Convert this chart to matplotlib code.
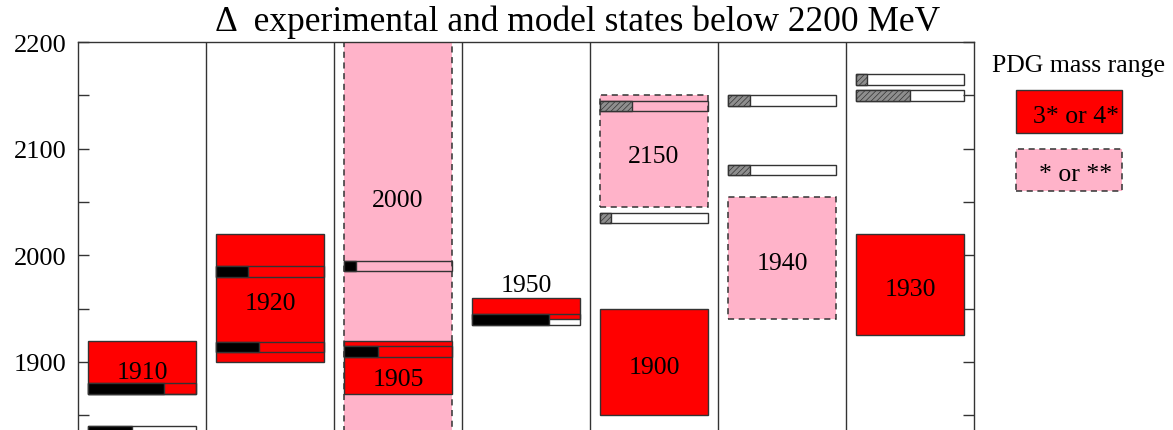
import matplotlib
matplotlib.use("Agg")
import matplotlib.pyplot as plt
from matplotlib.patches import Rectangle
from matplotlib.ticker import MultipleLocator

plt.rcParams['font.family'] = ['Liberation Serif', 'DejaVu Serif']
plt.rcParams['hatch.color'] = '#6e6e6e'
plt.rcParams['hatch.linewidth'] = 0.5

# PDG resonances: column, mass range (MeV), name, rating (True = 3*/4*)
pdg_col = [0, 1, 2, 2, 3, 4, 4, 5, 6]
pdg_lo = [1870, 1900, 1750, 1870, 1940, 2045, 1850, 1940, 1925]
pdg_hi = [1920, 2020, 2300, 1920, 1960, 2150, 1950, 2055, 2020]
pdg_name = ['1910', '1920', '2000', '1905', '1950', '2150', '1900', '1940', '1930']
pdg_strong = [True, True, False, True, True, False, True, False, True]

# Model states: column, mass (MeV), filled fraction, shading group
model_col = [0, 0, 1, 1, 2, 2, 3, 4, 4, 5, 5, 6, 6]
model_mass = [1875, 1835, 1985, 1914, 1990, 1910, 1940, 2140, 2035, 2145, 2080, 2165, 2150]
model_frac = [0.70, 0.41, 0.30, 0.40, 0.11, 0.31, 0.71, 0.30, 0.10, 0.20, 0.20, 0.10, 0.50]
model_gray = [False, False, False, False, False, False, False, True, True, True, True, True, True]

y_ticks = [1900, 2000, 2100, 2200]

RED = '#ff0000'
PINK = '#ffb3c9'
EDGE = '#333333'
GRAY = '#8e8e8e'
BAR_H = 10.0
X0, W = 0.08, 0.84

fig = plt.figure(figsize=(11.73, 4.31), dpi=100)
ax = fig.add_axes([78 / 1173, 0.0, 896 / 1173, 1 - 43 / 431])
ax.set_xlim(0, 7)
ax.set_ylim(1836.25, 2200)

# PDG boxes: weak states first so strong ones sit on top
label_pos = {'2000': 2052, '1905': 1884, '1950': 1972}
order = sorted(range(len(pdg_col)), key=lambda i: pdg_strong[i])
for i in order:
    c, lo, hi = pdg_col[i], pdg_lo[i], pdg_hi[i]
    if pdg_strong[i]:
        r = Rectangle((c + X0, lo), W, hi - lo, facecolor=RED, edgecolor=EDGE,
                      linewidth=1.0, zorder=2)
    else:
        r = Rectangle((c + X0, lo), W, hi - lo, facecolor=PINK, edgecolor=EDGE,
                      linewidth=1.1, linestyle=(0, (4, 3)), zorder=1)
    ax.add_patch(r)
    ty = label_pos.get(pdg_name[i], (lo + hi) / 2 - 4.5)
    ax.text(c + 0.5, ty, pdg_name[i], ha='center', va='center', fontsize=18.5,
            zorder=5)

# Model states as thin bars with a filled fraction
for c, m, f, g in zip(model_col, model_mass, model_frac, model_gray):
    y0 = m - BAR_H / 2
    ax.add_patch(Rectangle((c + X0, y0), W, BAR_H, facecolor='none',
                           edgecolor=EDGE, linewidth=1.0, zorder=3))
    if g:
        ax.add_patch(Rectangle((c + X0, y0), W * f, BAR_H, facecolor=GRAY,
                               edgecolor=EDGE, linewidth=1.0, hatch='//////',
                               zorder=3))
    else:
        ax.add_patch(Rectangle((c + X0, y0), W * f, BAR_H, facecolor='black',
                               edgecolor=EDGE, linewidth=1.0, zorder=3))

# column separators
for c in range(1, 7):
    ax.axvline(c, color=EDGE, linewidth=1.0, zorder=4)

for s in ['top', 'left', 'right']:
    ax.spines[s].set_color(EDGE)
    ax.spines[s].set_linewidth(1.0)
ax.spines['bottom'].set_visible(False)
ax.set_xticks([])
ax.set_yticks(y_ticks)
ax.yaxis.set_minor_locator(MultipleLocator(50))
ax.tick_params(axis='y', which='both', direction='in', left=True, right=True,
               length=8, width=1.0, color=EDGE, labelsize=19, pad=8.5)

# legend
ax.text(7.82, 2178, 'PDG mass range', ha='center', va='center', fontsize=18.5,
        clip_on=False)
ax.add_patch(Rectangle((7.33, 2115), 0.83, 40, facecolor=RED, edgecolor=EDGE,
                       linewidth=1.0, clip_on=False))
ax.text(7.80, 2131, '3* or 4*', ha='center', va='center', fontsize=18.5,
        clip_on=False)
ax.add_patch(Rectangle((7.33, 2060), 0.83, 40, facecolor=PINK, edgecolor=EDGE,
                       linewidth=1.1, linestyle=(0, (4, 3)), clip_on=False))
ax.text(7.79, 2076, '* or **', ha='center', va='center', fontsize=18.5,
        clip_on=False)

fig.text(577.5 / 1173, 1 - 31 / 431, 'Δ  experimental and model states below 2200 MeV',
         ha='center', va='baseline', fontsize=25.5)

fig.savefig('out.png', dpi=100)
